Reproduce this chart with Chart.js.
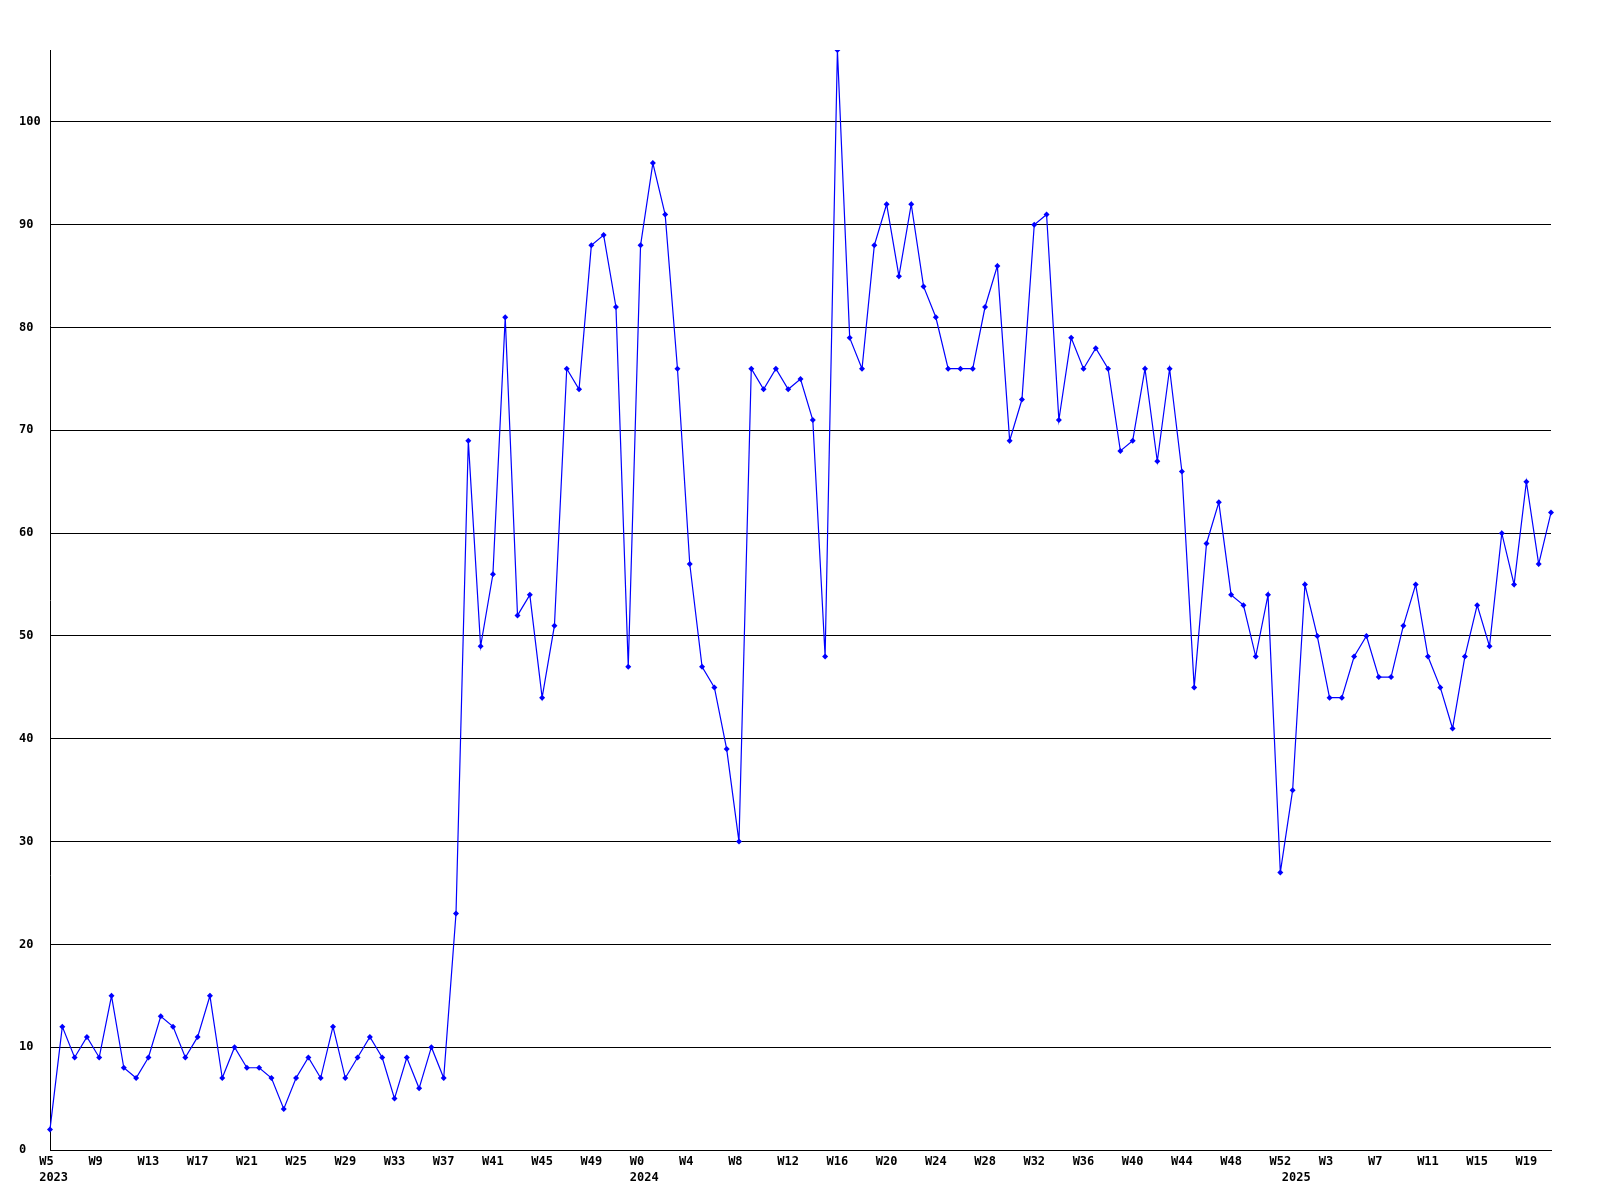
<!DOCTYPE html>
<html>
<head>
<meta charset="utf-8">
<script src="https://cdn.jsdelivr.net/npm/chart.js@4.4.1/dist/chart.umd.min.js"></script>
<style>
  html, body { margin: 0; padding: 0; background: #fff; }
  #wrap { width: 1600px; height: 1200px; }
</style>
</head>
<body>
<div id="wrap"><canvas id="weekChart" width="1600" height="1200"></canvas></div>
<script>
// weeks shown per year (first and last week number)
const years = [2023, 2024, 2025];
const firstWeek = [5, 0, 0];
const lastWeek = [52, 52, 21];

// one value per week, W5 2023 .. W21 2025
const counts = [
  2, 12, 9, 11, 9, 15, 8, 7, 9, 13, 12, 9, 11, 15, 7, 10, 8, 8, 7, 4,
  7, 9, 7, 12, 7, 9, 11, 9, 5, 9, 6, 10, 7, 23, 69, 49, 56, 81, 52, 54,
  44, 51, 76, 74, 88, 89, 82, 47, 88, 96, 91, 76, 57, 47, 45, 39, 30, 76, 74, 76,
  74, 75, 71, 48, 107, 79, 76, 88, 92, 85, 92, 84, 81, 76, 76, 76, 82, 86, 69, 73,
  90, 91, 71, 79, 76, 78, 76, 68, 69, 76, 67, 76, 66, 45, 59, 63, 54, 53, 48, 54,
  27, 35, 55, 50, 44, 44, 48, 50, 46, 46, 51, 55, 48, 45, 41, 48, 53, 49, 60, 55,
  65, 57, 62
];

const yTicks = [0, 10, 20, 30, 40, 50, 60, 70, 80, 90, 100];

// category labels: week name every 4th week, year under the first week of each year
// (padded with spaces so the text starts a bit left of the point, like the original)
const labels = [];
let n = 0;
years.forEach((yr, i) => {
  for (let w = firstWeek[i]; w <= lastWeek[i]; w++) {
    const wk = n % 4 === 0 ? ("W" + w).padEnd(3, " ") : "";
    const yl = w === firstWeek[i] ? " " + yr : "";
    labels.push([wk, yl]);
    n++;
  }
});

const tickFont = { family: "'DejaVu Sans Mono', monospace", size: 12, weight: "bold", lineHeight: 1.3 };

new Chart(document.getElementById("weekChart").getContext("2d"), {
  type: "line",
  data: {
    labels: labels,
    datasets: [{
      data: counts,
      borderColor: "#0000ff",
      backgroundColor: "#0000ff",
      borderWidth: 1.2,
      tension: 0,
      pointStyle: "rectRot",
      pointRadius: 3,
      pointBorderWidth: 0,
      fill: false
    }]
  },
  options: {
    responsive: false,
    devicePixelRatio: 1,
    animation: false,
    layout: { padding: { left: 19, top: 50, right: 49, bottom: 0 } },
    plugins: { legend: { display: false }, tooltip: { enabled: false } },
    scales: {
      x: {
        type: "category",
        offset: false,
        grid: { display: false, drawTicks: false },
        border: { display: true, color: "#000", width: 1 },
        ticks: {
          autoSkip: false, maxRotation: 0, minRotation: 0, padding: 4,
          color: "#000", font: tickFont
        },
        afterFit: s => { s.height = 50; }
      },
      y: {
        min: 0,
        max: 107,
        grid: { color: "#000", lineWidth: 1, drawTicks: false, tickLength: 0 },
        border: { display: true, color: "#000", width: 1 },
        ticks: {
          stepSize: 10, includeBounds: false, crossAlign: "far", padding: 0,
          color: "#000", font: tickFont,
          callback: v => yTicks.includes(v) ? String(v) : ""
        },
        afterFit: s => { s.width = 31; }
      }
    }
  }
});
</script>
</body>
</html>
